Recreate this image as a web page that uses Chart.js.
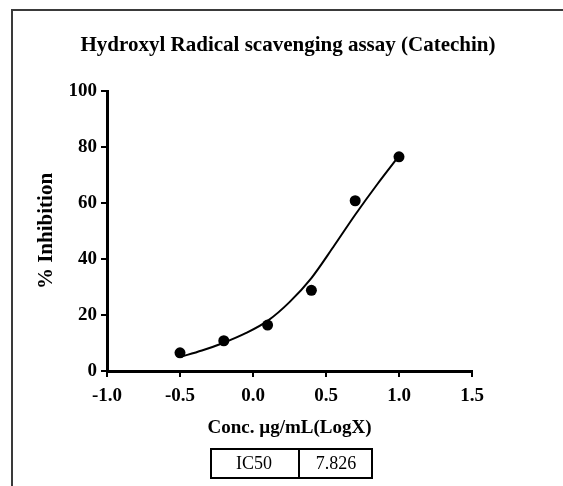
<!DOCTYPE html>
<html>
<head>
<meta charset="utf-8">
<script src="https://cdn.jsdelivr.net/npm/chart.js@4/dist/chart.umd.min.js"></script>
<style>
  html, body { margin: 0; padding: 0; background: #fff; }
  #wrap { width: 563px; height: 486px; position: relative; }
</style>
</head>
<body>
<div id="wrap"><canvas id="c" width="563" height="486"></canvas></div>
<script>
// ---- data ----
const chartTitle = 'Hydroxyl Radical scavenging assay (Catechin)';
const xTitle = 'Conc. µg/mL(LogX)';
const yTitle = '% Inhibition';
const logConc = [-0.5, -0.2, 0.1, 0.4, 0.7, 1.0];
const inhibition = [6.5, 10.8, 16.4, 28.8, 60.8, 76.5];
const fitLogConc = [-0.5, -0.35, -0.2, -0.05, 0.1, 0.25, 0.4, 0.55, 0.7, 0.85, 1.0];
const fitInhibition = [5.0, 7.3, 10.1, 13.5, 17.9, 24.6, 33.2, 44.3, 55.8, 66.6, 76.8];
const xTicks = [-1.0, -0.5, 0.0, 0.5, 1.0, 1.5];
const yTicks = [0, 20, 40, 60, 80, 100];
const tableLabels = ['IC50', '7.826'];

const SERIF = '"Liberation Serif", "Times New Roman", serif';

const framePlugin = {
  id: 'frame',
  afterDraw(chart) {
    const ctx = chart.ctx;
    ctx.save();
    // outer frame (top and left edges visible)
    ctx.strokeStyle = '#3a3a3a';
    ctx.lineWidth = 2;
    ctx.beginPath();
    ctx.moveTo(12, 486);
    ctx.lineTo(12, 10);
    ctx.lineTo(563, 10);
    ctx.stroke();
    // chart title
    ctx.fillStyle = '#000';
    ctx.font = 'bold 21px ' + SERIF;
    ctx.textAlign = 'center';
    ctx.textBaseline = 'middle';
    ctx.fillText(chartTitle, 288, 46);
    // IC50 table
    ctx.strokeStyle = '#000';
    ctx.lineWidth = 2;
    ctx.strokeRect(211, 449, 161, 29);
    ctx.beginPath();
    ctx.moveTo(299, 449);
    ctx.lineTo(299, 478);
    ctx.stroke();
    ctx.font = '18px ' + SERIF;
    ctx.fillText(tableLabels[0], 254, 464);
    ctx.fillText(tableLabels[1], 336, 464);
    ctx.restore();
  }
};

new Chart(document.getElementById('c'), {
  type: 'scatter',
  data: {
    datasets: [
      {
        label: 'Data',
        data: logConc.map((x, i) => ({ x: x, y: inhibition[i] })),
        showLine: false,
        pointRadius: 5.5,
        pointBackgroundColor: '#000',
        pointBorderColor: '#000',
        pointBorderWidth: 0,
        order: 0
      },
      {
        label: 'Fit',
        data: fitLogConc.map((x, i) => ({ x: x, y: fitInhibition[i] })),
        showLine: true,
        cubicInterpolationMode: 'monotone',
        borderColor: '#000',
        borderWidth: 2,
        pointRadius: 0,
        fill: false,
        order: 1
      }
    ]
  },
  options: {
    responsive: false,
    animation: false,
    devicePixelRatio: 1,
    layout: { padding: { left: 30, right: 91, top: 91, bottom: 42.6 } },
    plugins: {
      legend: { display: false },
      tooltip: { enabled: false },
      title: { display: false }
    },
    scales: {
      x: {
        type: 'linear',
        min: -1.0,
        max: 1.5,
        afterBuildTicks(scale) { scale.ticks = xTicks.map(v => ({ value: v })); },
        afterFit(scale) { scale.height = 72.4; },
        ticks: {
          color: '#000',
          padding: 8,
          font: { family: SERIF, size: 19, weight: 'bold' },
          callback: v => v.toFixed(1)
        },
        grid: { drawOnChartArea: false, drawTicks: true, tickLength: 6, color: '#000', lineWidth: 2 },
        border: { display: true, color: '#000', width: 3 },
        title: {
          display: true,
          text: xTitle,
          color: '#000',
          font: { family: SERIF, size: 19, weight: 'bold', lineHeight: 1.2 },
          padding: { top: 4, bottom: 4 }
        }
      },
      y: {
        type: 'linear',
        min: 0,
        max: 100,
        afterBuildTicks(scale) { scale.ticks = yTicks.map(v => ({ value: v })); },
        afterFit(scale) { scale.width = 77; },
        ticks: {
          color: '#000',
          padding: 4,
          font: { family: SERIF, size: 19, weight: 'bold' }
        },
        grid: { drawOnChartArea: false, drawTicks: true, tickLength: 6, color: '#000', lineWidth: 2 },
        border: { display: true, color: '#000', width: 3 },
        title: {
          display: true,
          text: yTitle,
          color: '#000',
          font: { family: SERIF, size: 21, weight: 'bold', lineHeight: 1.2 },
          padding: { top: 4, bottom: 4 }
        }
      }
    }
  },
  plugins: [framePlugin]
});
</script>
</body>
</html>
